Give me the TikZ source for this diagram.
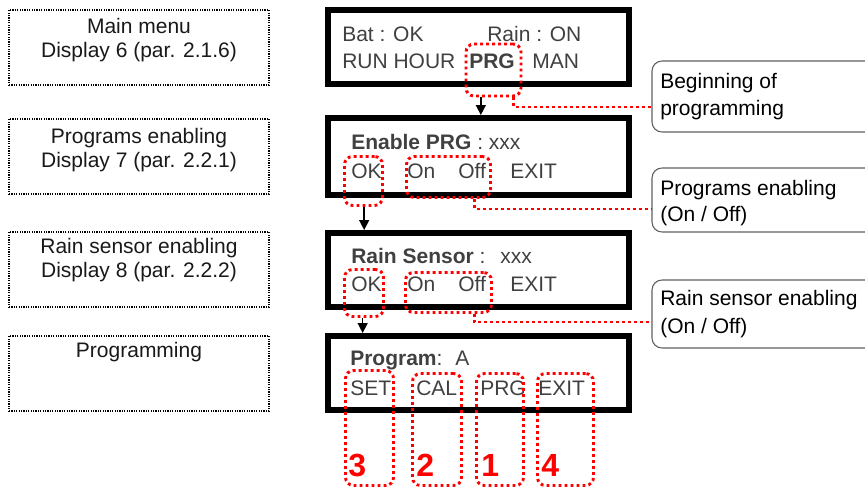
\documentclass[tikz,border=0pt]{standalone}
\usepackage{fontspec}
\setmainfont{Liberation Sans}
\usetikzlibrary{arrows.meta}
\definecolor{lcdgray}{HTML}{404040}
\definecolor{calloutgray}{HTML}{606060}
\begin{document}
\begin{tikzpicture}[x=0.75pt,y=-0.75pt,
  lcd/.style={draw=black,line width=4.5pt,minimum width=301*0.75pt,inner sep=0pt},
  ltext/.style={font=\fontsize{15.75}{18}\selectfont,text=lcdgray,anchor=base west,inner sep=0pt},
  hl/.style={draw=red,line width=2.2pt,dash pattern=on 2.2pt off 2.3pt,rounded corners=6pt,inner sep=0pt},
  redline/.style={draw=red,line width=2.2pt,dash pattern=on 2.2pt off 2.3pt},
  leftbox/.style={draw=black,line width=1.1pt,dash pattern=on 0.9pt off 0.9pt,minimum width=260*0.75pt,inner sep=0pt},
  lefttext/.style={font=\fontsize{15.75}{18}\selectfont,text=black!90,anchor=base,inner sep=0pt},
  callout/.style={draw=calloutgray,line width=0.8pt,rounded corners=7.5pt,minimum width=228*0.75pt,inner sep=0pt},
  ctext/.style={font=\fontsize{15.75}{18}\selectfont,text=black,anchor=base west,inner sep=0pt},
  num/.style={font=\fontsize{24}{28}\selectfont\bfseries,text=red,anchor=base west,inner sep=0pt},
  arr/.style={draw=black,line width=1.1pt,-{Triangle[length=7.5pt,width=7.5pt]}}]
\useasboundingbox (0,0) rectangle (865,493);

% left descriptive boxes
\node[leftbox,minimum height=75*0.75pt] (l1) at (139,47.5) {};
\node[leftbox,minimum height=75*0.75pt] (l2) at (139,156.5) {};
\node[leftbox,minimum height=75*0.75pt] (l3) at (139,269.5) {};
\node[leftbox,minimum height=75*0.75pt] (l4) at (139,373.5) {};
\node[lefttext] (l1a) at (139,33) {Main menu};
\node[lefttext] (l1b) at (139,57) {Display 6 (par. 2.1.6)};
\node[lefttext] (l2a) at (139,143) {Programs enabling};
\node[lefttext] (l2b) at (139,167) {Display 7 (par. 2.2.1)};
\node[lefttext] (l3a) at (139,253) {Rain sensor enabling};
\node[lefttext] (l3b) at (139,277) {Display 8 (par. 2.2.2)};
\node[lefttext] (l4a) at (139,357) {Programming};

% LCD displays
\node[lcd,minimum height=74*0.75pt] (dA) at (478.5,47) {};
\node[lcd,minimum height=77*0.75pt] (dB) at (478.5,156.5) {};
\node[lcd,minimum height=74*0.75pt] (dC) at (478.5,270) {};
\node[lcd,minimum height=74*0.75pt] (dD) at (478.5,373) {};

% display A
\node[ltext] (a1) at (342,41) {Bat : OK};
\node[ltext] (a2) at (487,41) {Rain : ON};
\node[ltext] (a3) at (342,68) {RUN HOUR};
\node[ltext] (a4) at (469,68) {\bfseries PRG};
\node[ltext] (a5) at (532,68) {MAN};
% display B
\node[ltext] (b1) at (351,149) {\textbf{Enable PRG} : xxx};
\node[ltext] (b2) at (351,178) {OK};
\node[ltext] (b3) at (407,178) {On};
\node[ltext] (b4) at (458,178) {Off};
\node[ltext] (b5) at (510,178) {EXIT};
% display C
\node[ltext] (c1t) at (351,263) {\textbf{Rain Sensor} :};
\node[ltext] (c1x) at (500,263) {xxx};
\node[ltext] (c2t) at (351,291) {OK};
\node[ltext] (c3t) at (407,291) {On};
\node[ltext] (c4t) at (458,291) {Off};
\node[ltext] (c5t) at (510,291) {EXIT};
% display D
\node[ltext] (d1) at (350,365) {\textbf{Program}:};
\node[ltext] (d1x) at (455,365) {A};
\node[ltext] (d2) at (350,395) {SET};
\node[ltext] (d3) at (416,395) {CAL};
\node[ltext] (d4) at (480,395) {PRG};
\node[ltext] (d5) at (538,395) {EXIT};

% red highlights
\node[hl,minimum width=55*0.75pt,minimum height=52*0.75pt] (hA) at (493.5,70) {};
\node[hl,minimum width=38*0.75pt,minimum height=49*0.75pt] (hB1) at (363.5,181) {};
\node[hl,minimum width=84*0.75pt,minimum height=41*0.75pt] (hB2) at (448.5,177) {};
\node[hl,minimum width=39*0.75pt,minimum height=47*0.75pt] (hC1) at (364,293) {};
\node[hl,minimum width=86*0.75pt,minimum height=40*0.75pt] (hC2) at (448.5,292.5) {};
\node[hl,minimum width=48*0.75pt,minimum height=115*0.75pt] (hD1) at (369.5,428) {};
\node[hl,minimum width=49*0.75pt,minimum height=112*0.75pt] (hD2) at (437,429.5) {};
\node[hl,minimum width=47*0.75pt,minimum height=112*0.75pt] (hD3) at (500,429.5) {};
\node[hl,minimum width=56*0.75pt,minimum height=112*0.75pt] (hD4) at (565.5,429.5) {};

% step numbers
\node[num] (n3) at (348,476) {3};
\node[num] (n2) at (416,476) {2};
\node[num] (n1) at (481,476) {1};
\node[num] (n4) at (541,476) {4};

% callouts (clipped at the right edge)
\begin{scope}
\clip (0,0) rectangle (865,493);
\node[callout,minimum height=71*0.75pt] (k1) at (766,96.5) {};
\node[callout,minimum height=64*0.75pt] (k2) at (766,200) {};
\node[callout,minimum height=68*0.75pt] (k3) at (766,314) {};
\end{scope}
\node[ctext] (k1a) at (660,88) {Beginning of};
\node[ctext] (k1b) at (660,115) {programming};
\node[ctext] (k2a) at (660,195) {Programs enabling};
\node[ctext] (k2b) at (660,221) {(On / Off)};
\node[ctext] (k3a) at (660,305) {Rain sensor enabling};
\node[ctext] (k3b) at (660,333) {(On / Off)};

% black arrows
\draw[arr] ([xshift=-9.5]hA.south) -- ([xshift=-9.5]hA.south |- dB.north);
\draw[arr] ([xshift=0.5]hB1.south) -- ([xshift=0.5]hB1.south |- dC.north);
\draw[arr] ([xshift=-1]hC1.south) -- ([xshift=-1]hC1.south |- dD.north);

% red connectors to callouts
\coordinate (j1) at (652,107);
\coordinate (j2) at (652,209);
\coordinate (j3) at (652,322);
\draw[redline] ([xshift=-7]hA.south east) |- (j1 -| k1.west);
\draw[redline] ([xshift=-13]hB2.south east) |- (j2 -| k2.west);
\draw[redline] ([xshift=-14]hC2.south east) |- (j3 -| k3.west);
\end{tikzpicture}
\end{document}
